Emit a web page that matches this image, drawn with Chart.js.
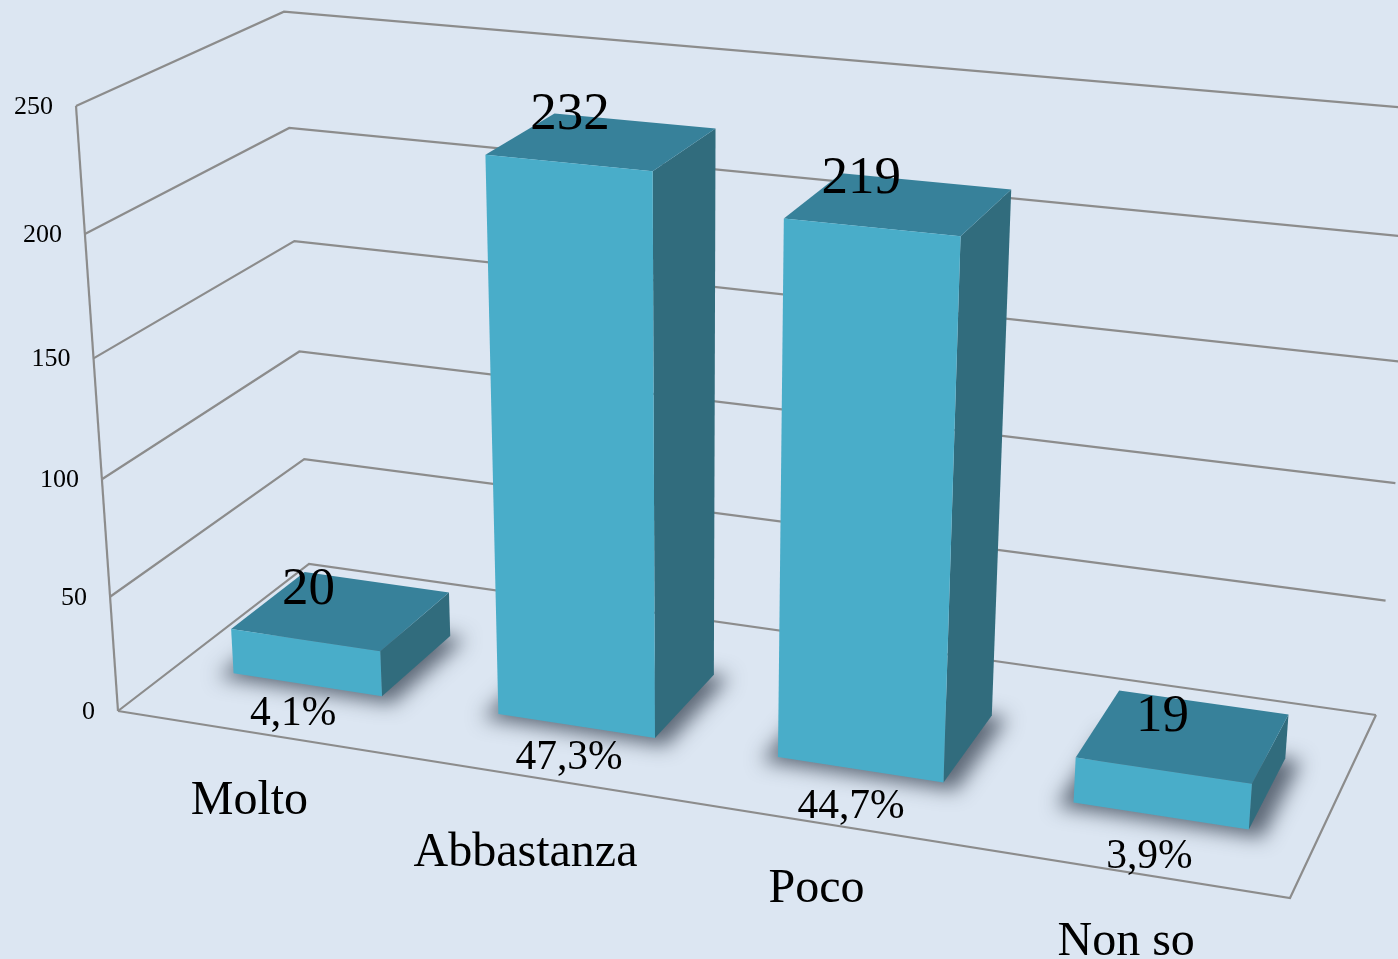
<!DOCTYPE html>
<html><head><meta charset="utf-8">
<style>html,body{margin:0;padding:0;background:#DCE6F2;overflow:hidden}canvas{display:block}</style>
<script src="https://cdn.jsdelivr.net/npm/chart.js@4"></script></head>
<body><canvas id="c" width="1398" height="959"></canvas>
<script>
const categories = ['Molto','Abbastanza','Poco','Non so'];
const counts = [20,232,219,19];
const percentLabels = ['4,1%','47,3%','44,7%','3,9%'];
const axisMax = 250, axisStep = 50;

// layout of the 3D box (screen anchors of the perspective)
const A=[118,711,1],B=[1290,898,1],C=[309,564,1],D=[1376,715,1],E=[76,106,1],F=[284,13,1];
const Z_FRONT=0.293, Z_BACK=0.685;
const percentOffset=[[-14,29],[-7,32],[-9,37],[-11,41]];
const valueOffset=[[-33,-20],[-32,-26],[-38,-25],[-21,-19]];
const catOffset=[[-1,69],[-1,77],[-2,67],[-2,70]];
const FRONT='#49ADC9',TOP='#37819A',SIDE='#316C7D',GRID='#8C8C8C';
const SERIF='"Liberation Serif","Times New Roman",serif';

const cross=(a,b)=>[a[1]*b[2]-a[2]*b[1],a[2]*b[0]-a[0]*b[2],a[0]*b[1]-a[1]*b[0]];
const dot=(a,b)=>a[0]*b[0]+a[1]*b[1]+a[2]*b[2];
const norm=v=>{const m=Math.hypot(v[0],v[1],v[2]);return v.map(c=>c/m)};
const vanish=(p,q,r,s)=>norm(cross(cross(p,q),cross(r,s)));
function weight(V,T){const n=cross(V,T),m=cross(A,T);return -dot(m,n)/dot(n,n);}
const Vx=vanish(A,B,C,D),Vy=vanish(A,E,C,F),Vz=vanish(A,C,B,D);
const ax=weight(Vx,B),ay=weight(Vy,E),az=weight(Vz,C);
function proj(X,Y,Z){
  const p=[0,1,2].map(i=>ax*Vx[i]*X+ay*Vy[i]*Y+az*Vz[i]*Z+A[i]);
  return [p[0]/p[2],p[1]/p[2]];
}
function poly(ctx,pts,fill){
  ctx.beginPath();pts.forEach((p,i)=>i?ctx.lineTo(p[0],p[1]):ctx.moveTo(p[0],p[1]));ctx.closePath();
  ctx.fillStyle=fill;ctx.fill();
}
function stroke(ctx,pts){
  ctx.beginPath();pts.forEach((p,i)=>i?ctx.lineTo(p[0],p[1]):ctx.moveTo(p[0],p[1]));ctx.stroke();
}
const box3d={
  id:'box3d',
  beforeDatasetsDraw(chart){
    const ctx=chart.ctx,y=chart.scales.y,a=chart.chartArea;
    ctx.save();ctx.strokeStyle=GRID;ctx.lineWidth=2.2;ctx.lineJoin='miter';
    stroke(ctx,[proj(0,0,0),proj(0,1,0)]);
    y.ticks.forEach(t=>{
      const Y=(a.bottom-y.getPixelForValue(t.value))/a.height;
      stroke(ctx,[proj(0,Y,0),proj(0,Y,1),proj(1,Y,1)]);
    });
    stroke(ctx,[proj(0,0,0),proj(1,0,0),proj(1,0,1)]);
    ctx.restore();
  },
  beforeDatasetDraw(chart,args){
    const ctx=chart.ctx,a=chart.chartArea,meta=args.meta;
    const boxes=meta.data.map(el=>{
      const x0=(el.x-el.width/2-a.left)/a.width,x1=(el.x+el.width/2-a.left)/a.width;
      return {x0,x1,h:(a.bottom-el.y)/a.height};
    });
    boxes.forEach(b=>{
      // blurred floor shadow only: the casting shape sits off-canvas
      ctx.save();
      ctx.translate(-3000,0);
      ctx.shadowOffsetX=3000;ctx.shadowOffsetY=3;
      ctx.shadowColor='rgba(45,55,70,0.72)';ctx.shadowBlur=19;
      const m=0.012,n=0.016;
      poly(ctx,[proj(b.x0-m,0,Z_FRONT-n),proj(b.x1+m,0,Z_FRONT-n),proj(b.x1+m,0,Z_BACK+n),proj(b.x0-m,0,Z_BACK+n)],'#000');
      ctx.restore();
    });
    boxes.forEach(b=>{
      const {x0,x1,h}=b;
      poly(ctx,[proj(x1,0,Z_FRONT),proj(x1,0,Z_BACK),proj(x1,h,Z_BACK),proj(x1,h,Z_FRONT)],SIDE);
      poly(ctx,[proj(x0,h,Z_FRONT),proj(x1,h,Z_FRONT),proj(x1,h,Z_BACK),proj(x0,h,Z_BACK)],TOP);
      poly(ctx,[proj(x0,0,Z_FRONT),proj(x1,0,Z_FRONT),proj(x1,h,Z_FRONT),proj(x0,h,Z_FRONT)],FRONT);
    });
    return false;
  },
  afterDraw(chart){
    const ctx=chart.ctx,a=chart.chartArea,y=chart.scales.y;
    const meta=chart.getDatasetMeta(0);
    ctx.save();ctx.fillStyle='#000';ctx.textBaseline='middle';
    ctx.font='26px '+SERIF;ctx.textAlign='right';
    y.ticks.forEach(t=>{
      const p=proj(0,(a.bottom-y.getPixelForValue(t.value))/a.height,0);
      ctx.fillText(String(t.value),p[0]-23,p[1]+1);
    });
    ctx.textAlign='center';
    meta.data.forEach((el,i)=>{
      const X=(el.x-a.left)/a.width,h=(a.bottom-el.y)/a.height;
      const top=proj(X,h,(Z_FRONT+Z_BACK)/2),fr=proj(X,0,Z_FRONT),c=proj(X,0,0);
      ctx.font='53px '+SERIF;
      ctx.fillText(String(counts[i]),top[0]+valueOffset[i][0],top[1]+valueOffset[i][1]);
      ctx.font='41.5px '+SERIF;
      ctx.fillText(percentLabels[i],fr[0]+percentOffset[i][0],fr[1]+percentOffset[i][1]);
      ctx.font='48px '+SERIF;
      ctx.fillText(categories[i],c[0]+catOffset[i][0],c[1]+catOffset[i][1]);
    });
    ctx.restore();
  }
};
new Chart(document.getElementById('c'),{
  type:'bar',
  data:{labels:categories,datasets:[{data:counts,backgroundColor:FRONT,barPercentage:0.567,categoryPercentage:1}]},
  options:{
    responsive:false,animation:false,
    layout:{padding:0},
    plugins:{legend:{display:false},tooltip:{enabled:false},title:{display:false}},
    scales:{
      x:{display:false},
      y:{display:false,min:0,max:axisMax,ticks:{stepSize:axisStep}}
    }
  },
  plugins:[box3d]
});
</script></body></html>
